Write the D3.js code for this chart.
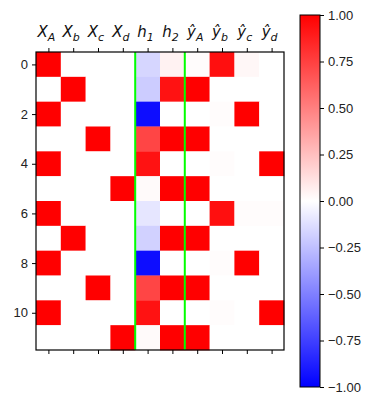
<!DOCTYPE html>
<html>
<head>
<meta charset="utf-8">
<script src="https://cdn.jsdelivr.net/npm/d3@7"></script>
<style>
  body { margin: 0; background: #fff; }
  svg { font-family: "DejaVu Sans", sans-serif; }
  .axis text { font-size: 13px; fill: #222; }
  .axis path, .axis line { stroke: #000; }
</style>
</head>
<body>
<script>
// column labels: [main letter, subscript, hat]
let colNames = ["X", "X", "X", "X", "h", "h", "y", "y", "y", "y"];
let colSubs = ["A", "b", "c", "d", "1", "2", "A", "b", "c", "d"];
let colHats = [false, false, false, false, false, false, true, true, true, true];

// activations per row (12 rows x 10 columns)
let row0 = [1, 0, 0, 0, -0.16, 0.05, 0.01, 0.94, 0.03, 0];
let row1 = [0, 1, 0, 0, -0.2, 0.93, 1, 0, 0, 0];
let row2 = [1, 0, 0, 0, -0.95, 0, 0, 0.01, 1, 0];
let row3 = [0, 0, 1, 0, 0.73, 1, 1, 0, 0, 0];
let row4 = [1, 0, 0, 0, 0.93, 0, 0, 0.01, 0, 1];
let row5 = [0, 0, 0, 1, 0.02, 1, 1, 0, 0, 0];
let row6 = [1, 0, 0, 0, -0.1, 0, 0, 0.94, 0.01, 0.01];
let row7 = [0, 1, 0, 0, -0.18, 1, 1, 0, 0, 0];
let row8 = [1, 0, 0, 0, -0.95, 0, 0, 0.01, 1, 0];
let row9 = [0, 0, 1, 0, 0.73, 1, 1, 0, 0, 0];
let row10 = [1, 0, 0, 0, 0.93, 0, 0, 0.01, 0, 1];
let row11 = [0, 0, 0, 1, 0.02, 1, 1, 0, 0, 0];
let rows = [row0, row1, row2, row3, row4, row5, row6, row7, row8, row9, row10, row11];

let yTicks = [0, 2, 4, 6, 8, 10];
let cbTicks = [-1, -0.75, -0.5, -0.25, 0, 0.25, 0.5, 0.75, 1];
let dividers = [3.5, 5.5];

let W = 372, H = 405;
let hm = {left: 36, top: 52, width: 248, height: 298};
let cb = {left: 300, top: 15, width: 20, height: 372};

let color = d3.scaleLinear().domain([-1, 0, 1]).range(["#0000ff", "#ffffff", "#ff0000"]);

let svg = d3.select("body").append("svg")
    .attr("width", W)
    .attr("height", H);

let x = d3.scaleLinear().domain([-0.5, 9.5]).range([0, hm.width]);
let y = d3.scaleLinear().domain([-0.5, 11.5]).range([0, hm.height]);

let g = svg.append("g")
    .attr("transform", "translate(" + hm.left + "," + hm.top + ")");

// cells
let cells = [];
rows.forEach(function (r, i) {
    r.forEach(function (v, j) {
        cells.push({row: i, col: j, v: v});
    });
});

g.selectAll("rect.cell")
    .data(cells)
    .enter().append("rect")
    .attr("class", "cell")
    .attr("x", d => x(d.col - 0.5))
    .attr("y", d => y(d.row - 0.5))
    .attr("width", x(1) - x(0) + 0.3)
    .attr("height", y(1) - y(0) + 0.3)
    .attr("fill", d => color(d.v));

// green dividers
g.selectAll("line.div")
    .data(dividers)
    .enter().append("line")
    .attr("x1", d => x(d))
    .attr("x2", d => x(d))
    .attr("y1", 0)
    .attr("y2", hm.height)
    .attr("stroke", "#00ff00")
    .attr("stroke-width", 2);

// frame
g.append("rect")
    .attr("width", hm.width)
    .attr("height", hm.height)
    .attr("fill", "none")
    .attr("stroke", "#000")
    .attr("stroke-width", 1.2);

// left axis
g.append("g")
    .attr("class", "axis")
    .call(d3.axisLeft(y).tickValues(yTicks).tickSize(4).tickPadding(4))
    .call(a => a.select(".domain").remove());

// bottom ticks, no labels
g.append("g")
    .attr("class", "axis")
    .attr("transform", "translate(0," + hm.height + ")")
    .call(d3.axisBottom(x).tickValues(d3.range(10)).tickSize(4).tickFormat(""))
    .call(a => a.select(".domain").remove());

// top ticks
g.append("g")
    .attr("class", "axis")
    .call(d3.axisTop(x).tickValues(d3.range(10)).tickSize(4).tickFormat(""))
    .call(a => a.select(".domain").remove());

// top labels
let labels = g.selectAll("text.col")
    .data(d3.range(10))
    .enter().append("text")
    .attr("class", "col")
    .attr("x", d => x(d) - 2)
    .attr("y", -15)
    .attr("text-anchor", "middle")
    .style("font-size", "15px")
    .style("font-style", "italic")
    .attr("fill", "#111");

labels.append("tspan")
    .text(d => colHats[d] ? "\u0177" : colNames[d]);
labels.append("tspan")
    .attr("dy", 4)
    .style("font-size", "11px")
    .text(d => colSubs[d]);

// colorbar
let defs = svg.append("defs");
let grad = defs.append("linearGradient")
    .attr("id", "cbgrad")
    .attr("x1", 0).attr("y1", 1)
    .attr("x2", 0).attr("y2", 0);
grad.selectAll("stop")
    .data([-1, 0, 1])
    .enter().append("stop")
    .attr("offset", d => (d + 1) / 2)
    .attr("stop-color", d => color(d));

let cy = d3.scaleLinear().domain([-1, 1]).range([cb.height, 0]);

let cg = svg.append("g")
    .attr("transform", "translate(" + cb.left + "," + cb.top + ")");

cg.append("rect")
    .attr("width", cb.width)
    .attr("height", cb.height)
    .attr("fill", "url(#cbgrad)")
    .attr("stroke", "#000")
    .attr("stroke-width", 1);

cg.append("g")
    .attr("class", "axis")
    .attr("transform", "translate(" + cb.width + ",0)")
    .call(d3.axisRight(cy).tickValues(cbTicks).tickSize(4).tickPadding(4).tickFormat(d3.format(".2f")))
    .call(a => a.select(".domain").remove());
</script>
</body>
</html>
